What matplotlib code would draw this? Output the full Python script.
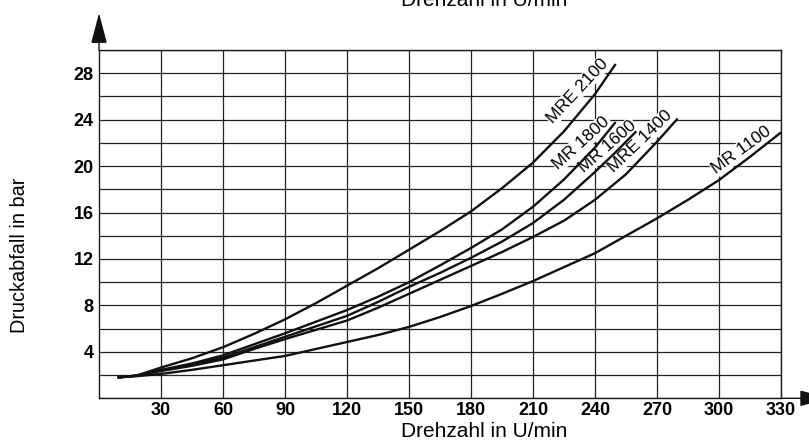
import matplotlib
matplotlib.use("Agg")
import matplotlib.pyplot as plt
from matplotlib.ticker import MultipleLocator

plt.rcParams['font.family'] = ['Liberation Sans', 'DejaVu Sans']

# Drehzahl (U/min) und Druckabfall (bar)
x_base = [9, 18, 30, 45, 60, 75, 90, 105, 120, 135, 150, 165, 180, 195, 210, 225, 240]

mre2100_x = x_base + [250]
mre2100_y = [1.8, 1.95, 2.65, 3.45, 4.4, 5.55, 6.8, 8.2, 9.7, 11.2, 12.8, 14.4,
             16.1, 18.1, 20.3, 23.0, 26.2, 28.8]

mr1800_x = x_base + [250]
mr1800_y = [1.8, 1.95, 2.45, 3.0, 3.7, 4.65, 5.6, 6.6, 7.6, 8.75, 10.0, 11.45,
            12.95, 14.55, 16.5, 18.85, 21.6, 23.8]

mr1600_x = x_base + [250, 260]
mr1600_y = [1.8, 1.95, 2.4, 2.9, 3.5, 4.4, 5.3, 6.2, 7.1, 8.3, 9.6, 10.8,
            12.1, 13.5, 15.1, 17.1, 19.5, 21.2, 23.0]

mre1400_x = x_base + [255, 270, 280]
mre1400_y = [1.8, 1.95, 2.35, 2.8, 3.35, 4.25, 5.1, 5.9, 6.7, 7.8, 9.0, 10.2,
             11.4, 12.6, 13.9, 15.3, 17.1, 19.3, 22.1, 24.1]

mr1100_x = x_base + [255, 270, 285, 300, 315, 330]
mr1100_y = [1.8, 1.9, 2.1, 2.45, 2.85, 3.25, 3.65, 4.25, 4.85, 5.45, 6.15, 7.0,
            7.95, 9.0, 10.1, 11.3, 12.5, 14.0, 15.5, 17.1, 18.8, 20.8, 22.9]

series_names = ['MRE 2100', 'MR 1800', 'MR 1600', 'MRE 1400', 'MR 1100']
series_x = [mre2100_x, mr1800_x, mr1600_x, mre1400_x, mr1100_x]
series_y = [mre2100_y, mr1800_y, mr1600_y, mre1400_y, mr1100_y]

# label anchor (data coords) and rotation for each curve label
label_pos = [(231.5, 26.5), (233.5, 22.0), (246, 21.7), (262, 22.1), (311, 21.4)]
label_rot = [47, 42, 41, 44, 36]

x_ticks = list(range(30, 331, 30))
y_ticks = list(range(4, 29, 4))
axis_label = 'Drehzahl in U/min'
y_label = 'Druckabfall in bar'

fig = plt.figure(figsize=(8.09, 4.43), dpi=100)
ax = fig.add_axes([0.1224, 0.1009, 0.8430, 0.7862])

ax.set_xlim(0, 330)
ax.set_ylim(0, 30)
ax.set_xticks(x_ticks)
ax.set_yticks(y_ticks)
ax.yaxis.set_minor_locator(MultipleLocator(2))
ax.tick_params(which='both', length=0)
ax.tick_params(axis='x', pad=3, labelsize=13)
ax.tick_params(axis='y', pad=4, labelsize=13)
for lab in ax.get_xticklabels() + ax.get_yticklabels():
    lab.set_fontweight('bold')

ax.grid(True, which='both', color='#222222', linewidth=0.9)
ax.set_axisbelow(True)
for sp in ax.spines.values():
    sp.set_linewidth(1.0)
    sp.set_color('#1a1a1a')

for name, xs, ys, pos, rot in zip(series_names, series_x, series_y, label_pos, label_rot):
    ax.plot(xs, ys, color='#111111', linewidth=1.7, zorder=4,
            solid_capstyle='butt', solid_joinstyle='round')
    ax.text(pos[0], pos[1], name, rotation=rot, rotation_mode='anchor',
            ha='center', va='center', fontsize=12.5, zorder=3,
            bbox=dict(facecolor='white', edgecolor='none', pad=0.8))

# axis arrows
ax.annotate('', xy=(0, 1.106), xytext=(0, 1.0), xycoords='axes fraction',
            arrowprops=dict(arrowstyle='-|>,head_length=1.9,head_width=0.5',
                            color='#111111', lw=1.0, shrinkA=0, shrinkB=0),
            annotation_clip=False)
ax.annotate('', xy=(1.072, 0), xytext=(1.0, 0), xycoords='axes fraction',
            arrowprops=dict(arrowstyle='-|>,head_length=1.9,head_width=0.5',
                            color='#111111', lw=1.0, shrinkA=0, shrinkB=0),
            annotation_clip=False)

fig.text(0.598, 0.025, axis_label, ha='center', va='center', fontsize=15)
fig.text(0.598, 0.986, axis_label, ha='center', va='baseline', fontsize=15)
fig.text(0.0247, 0.4228, y_label, ha='center', va='center', rotation=90,
         fontsize=14.3)

fig.savefig('out.png', dpi=100)
